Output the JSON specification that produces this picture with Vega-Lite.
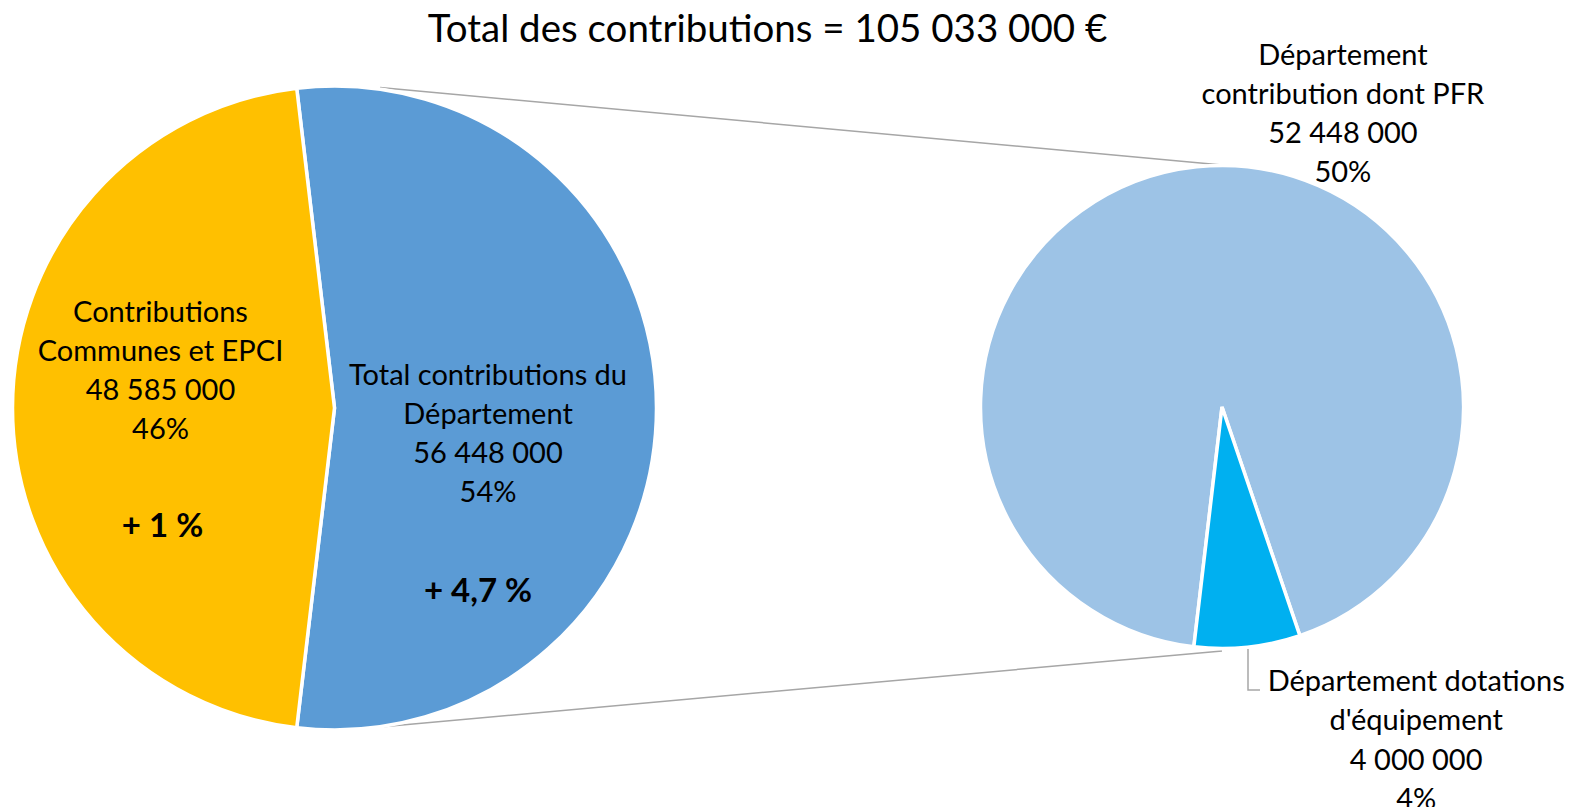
{
  "$schema": "https://vega.github.io/schema/vega-lite/v6.json",
  "width": 1575,
  "height": 807,
  "autosize": {"type": "none"},
  "padding": 0,
  "background": "white",
  "config": {"view": {"stroke": null}, "font": "Lato"},
  "title": {"text": "Total des contributions = 105 033 000 €", "font": "Lato", "fontSize": 38.5, "fontWeight": "normal", "color": "#000000", "anchor": "middle", "baseline": "alphabetic", "offset": 0, "dy": 80, "dx": -20},
  "datasets": {
    "tranches": [
      {"graphique": "Ensemble", "tranche": "Total contributions du Département", "valeur": 56448000, "ordre": 1, "libelle": "Total contributions du\nDépartement\n56 448 000\n54%", "evolution": "+ 4,7 %"},
      {"graphique": "Ensemble", "tranche": "Contributions Communes et EPCI", "valeur": 48585000, "ordre": 2, "libelle": "Contributions\nCommunes et EPCI\n48 585 000\n46%", "evolution": "+ 1 %"},
      {"graphique": "Département", "tranche": "Département contribution dont PFR", "valeur": 52448000, "ordre": 1, "libelle": "Département\ncontribution dont PFR\n52 448 000\n50%", "evolution": ""},
      {"graphique": "Département", "tranche": "Département dotations d'équipement", "valeur": 4000000, "ordre": 2, "libelle": "Département dotations\nd'équipement\n4 000 000\n4%", "evolution": ""}
    ],
    "connecteurs": [
      {"trait": "haut", "ordre": 1, "x": 380, "y": 87.5},
      {"trait": "haut", "ordre": 2, "x": 1222, "y": 165},
      {"trait": "bas", "ordre": 1, "x": 380, "y": 727},
      {"trait": "bas", "ordre": 2, "x": 1222, "y": 651},
      {"trait": "repere", "ordre": 1, "x": 1248, "y": 649},
      {"trait": "repere", "ordre": 2, "x": 1248, "y": 690},
      {"trait": "repere", "ordre": 3, "x": 1260, "y": 690}
    ]
  },
  "layer": [
    {
      "data": {"name": "connecteurs"},
      "mark": {"type": "line", "color": "#A6A6A6", "strokeWidth": 1.5},
      "encoding": {
        "x": {"field": "x", "type": "quantitative", "scale": {"domain": [0, 1575], "range": [0, 1575], "nice": false, "zero": false}, "axis": null},
        "y": {"field": "y", "type": "quantitative", "scale": {"domain": [0, 807], "range": [0, 807], "nice": false, "zero": false}, "axis": null},
        "detail": {"field": "trait", "type": "nominal"},
        "order": {"field": "ordre", "type": "quantitative"}
      }
    },
    {
      "data": {"name": "tranches"},
      "encoding": {
        "x": {"field": "graphique", "type": "nominal", "scale": {"type": "point", "domain": ["Ensemble", "Département"], "range": [334.5, 1222], "padding": 0}, "axis": null},
        "y": {"field": "graphique", "type": "nominal", "scale": {"type": "point", "domain": ["Ensemble", "Département"], "range": [408, 407], "padding": 0}, "axis": null},
        "detail": {"field": "tranche", "type": "nominal"}
      },
      "layer": [
        {
          "transform": [{"filter": "datum.graphique === 'Ensemble'"}],
          "encoding": {
            "theta": {"field": "valeur", "type": "quantitative", "stack": true, "scale": {"range": [-0.1176, 6.1656], "nice": false}},
            "order": {"field": "ordre", "type": "quantitative"}
          },
          "layer": [
            {
              "mark": {"type": "arc", "outerRadius": 322, "stroke": "white", "strokeWidth": 3.5},
              "encoding": {
                "color": {"field": "tranche", "type": "nominal", "legend": null, "scale": {"domain": ["Total contributions du Département", "Contributions Communes et EPCI", "Département contribution dont PFR", "Département dotations d'équipement"], "range": ["#5B9BD5", "#FFC000", "#9DC3E6", "#00B0F0"]}}
              }
            },
            {
              "mark": {"type": "text", "radius": 174, "dy": -95, "fontSize": 29, "lineBreak": "\n", "lineHeight": 39, "color": "#000000", "align": "center", "baseline": "middle"},
              "encoding": {"text": {"condition": {"test": "datum.ordre === 2", "field": "libelle"}, "value": ""}}
            },
            {
              "mark": {"type": "text", "radius": 172, "dy": 119, "fontSize": 33, "fontWeight": "bold", "color": "#000000", "align": "center", "baseline": "middle"},
              "encoding": {"text": {"condition": {"test": "datum.ordre === 2", "field": "evolution"}, "value": ""}}
            },
            {
              "mark": {"type": "text", "radius": 153.5, "dy": -31.5, "fontSize": 29, "lineBreak": "\n", "lineHeight": 39, "color": "#000000", "align": "center", "baseline": "middle"},
              "encoding": {"text": {"condition": {"test": "datum.ordre === 1", "field": "libelle"}, "value": ""}}
            },
            {
              "mark": {"type": "text", "radius": 143.5, "dy": 184, "fontSize": 33, "fontWeight": "bold", "color": "#000000", "align": "center", "baseline": "middle"},
              "encoding": {"text": {"condition": {"test": "datum.ordre === 1", "field": "evolution"}, "value": ""}}
            }
          ]
        },
        {
          "transform": [{"filter": "datum.graphique === 'Département'"}],
          "encoding": {
            "theta": {"field": "valeur", "type": "quantitative", "stack": true, "scale": {"range": [3.2585, 9.5417], "nice": false}},
            "order": {"field": "ordre", "type": "quantitative"}
          },
          "layer": [
            {
              "mark": {"type": "arc", "outerRadius": 241.5, "stroke": "white", "strokeWidth": 3.5},
              "encoding": {
                "color": {"field": "tranche", "type": "nominal", "legend": null}
              }
            },
            {
              "mark": {"type": "text", "radius": 294.6, "dx": 152, "dy": -58, "fontSize": 29, "lineBreak": "\n", "lineHeight": 39, "color": "#000000", "align": "center", "baseline": "middle"},
              "encoding": {"text": {"condition": {"test": "datum.ordre === 1", "field": "libelle"}, "value": ""}}
            },
            {
              "mark": {"type": "text", "radius": 333.3, "dx": 159, "dy": -56.5, "fontSize": 29, "lineBreak": "\n", "lineHeight": 39.3, "color": "#000000", "align": "center", "baseline": "middle"},
              "encoding": {"text": {"condition": {"test": "datum.ordre === 2", "field": "libelle"}, "value": ""}}
            }
          ]
        }
      ],
      "resolve": {"scale": {"theta": "independent"}}
    }
  ],
  "resolve": {"scale": {"x": "independent", "y": "independent"}}
}
